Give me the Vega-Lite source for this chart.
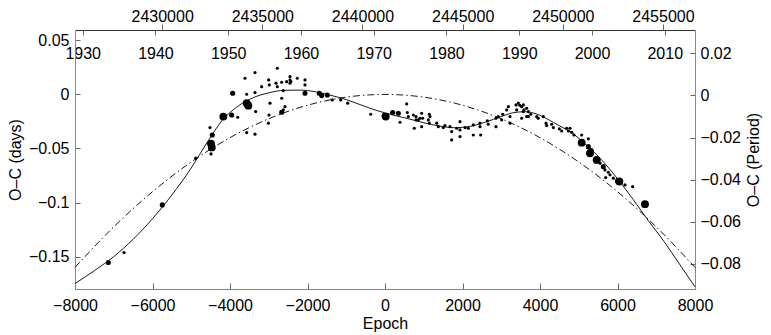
{
  "$schema": "https://vega.github.io/schema/vega-lite/v6.json",
  "width": 620,
  "height": 259,
  "autosize": {"type": "none"},
  "padding": {"left": 75, "top": 30, "right": 76, "bottom": 46},
  "background": "white",
  "config": {
    "view": {"stroke": null},
    "axis": {
      "labelFont": "Liberation Sans",
      "titleFont": "Liberation Sans",
      "labelFontSize": 16,
      "titleFontSize": 16,
      "titleFontWeight": "normal",
      "labelColor": "black",
      "titleColor": "black",
      "grid": false,
      "domainColor": "#888888",
      "tickColor": "#666666",
      "labelOverlap": false,
      "labelFlush": false
    }
  },
  "datasets": {
    "obs": [
      {"epoch": -7140, "oc": -0.1555, "w": 2},
      {"epoch": -6735, "oc": -0.1463, "w": 1},
      {"epoch": -5747, "oc": -0.1022, "w": 2},
      {"epoch": -4885, "oc": -0.0590, "w": 1},
      {"epoch": -4516, "oc": -0.0307, "w": 1},
      {"epoch": -4457, "oc": -0.0375, "w": 2},
      {"epoch": -4490, "oc": -0.0455, "w": 3},
      {"epoch": -4470, "oc": -0.0490, "w": 3},
      {"epoch": -4490, "oc": -0.0550, "w": 1},
      {"epoch": -4172, "oc": -0.0205, "w": 3},
      {"epoch": -3957, "oc": -0.0190, "w": 2},
      {"epoch": -3931, "oc": 0.0011, "w": 2},
      {"epoch": -3800, "oc": -0.0211, "w": 1},
      {"epoch": -3613, "oc": 0.0150, "w": 1},
      {"epoch": -3570, "oc": 0.0002, "w": 1},
      {"epoch": -3570, "oc": -0.0081, "w": 3},
      {"epoch": -3527, "oc": -0.0104, "w": 3},
      {"epoch": -3570, "oc": -0.0353, "w": 1},
      {"epoch": -3355, "oc": 0.0202, "w": 1},
      {"epoch": -3355, "oc": 0.0017, "w": 1},
      {"epoch": -3338, "oc": -0.0159, "w": 1},
      {"epoch": -3355, "oc": -0.0368, "w": 1},
      {"epoch": -3183, "oc": 0.0072, "w": 1},
      {"epoch": -3011, "oc": -0.0266, "w": 1},
      {"epoch": -3002, "oc": 0.0134, "w": 1},
      {"epoch": -2985, "oc": 0.0088, "w": 1},
      {"epoch": -2968, "oc": -0.0081, "w": 1},
      {"epoch": -2994, "oc": -0.0190, "w": 1},
      {"epoch": -2813, "oc": 0.0104, "w": 1},
      {"epoch": -2779, "oc": 0.0072, "w": 1},
      {"epoch": -2779, "oc": 0.0242, "w": 1},
      {"epoch": -2666, "oc": 0.0113, "w": 1},
      {"epoch": -2666, "oc": -0.0035, "w": 1},
      {"epoch": -2666, "oc": -0.0165, "w": 2},
      {"epoch": -2624, "oc": 0.0035, "w": 1},
      {"epoch": -2624, "oc": -0.0143, "w": 1},
      {"epoch": -2581, "oc": -0.0113, "w": 1},
      {"epoch": -2537, "oc": 0.0118, "w": 1},
      {"epoch": -2452, "oc": 0.0165, "w": 1},
      {"epoch": -2452, "oc": 0.0134, "w": 1},
      {"epoch": -2452, "oc": 0.0104, "w": 1},
      {"epoch": -2430, "oc": 0.0120, "w": 1},
      {"epoch": -2263, "oc": 0.0150, "w": 1},
      {"epoch": -2065, "oc": 0.0134, "w": 1},
      {"epoch": -2065, "oc": 0.0088, "w": 1},
      {"epoch": -2065, "oc": 0.0011, "w": 2},
      {"epoch": -1695, "oc": 0.0011, "w": 2},
      {"epoch": -1634, "oc": -0.0011, "w": 2},
      {"epoch": -1489, "oc": -0.0005, "w": 2},
      {"epoch": -1360, "oc": -0.0051, "w": 1},
      {"epoch": -1143, "oc": -0.0051, "w": 1},
      {"epoch": -963, "oc": -0.0081, "w": 1},
      {"epoch": -369, "oc": -0.0183, "w": 1},
      {"epoch": 18, "oc": -0.0205, "w": 3},
      {"epoch": -20, "oc": -0.0195, "w": 2},
      {"epoch": 198, "oc": -0.0168, "w": 2},
      {"epoch": 344, "oc": -0.0174, "w": 2},
      {"epoch": 387, "oc": -0.0257, "w": 1},
      {"epoch": 559, "oc": -0.0088, "w": 1},
      {"epoch": 576, "oc": -0.0168, "w": 1},
      {"epoch": 602, "oc": -0.0205, "w": 1},
      {"epoch": 731, "oc": -0.0190, "w": 1},
      {"epoch": 800, "oc": -0.0205, "w": 1},
      {"epoch": 757, "oc": -0.0313, "w": 1},
      {"epoch": 800, "oc": -0.0236, "w": 1},
      {"epoch": 860, "oc": -0.0236, "w": 1},
      {"epoch": 903, "oc": -0.0220, "w": 1},
      {"epoch": 946, "oc": -0.0174, "w": 1},
      {"epoch": 972, "oc": -0.0220, "w": 1},
      {"epoch": 946, "oc": -0.0298, "w": 1},
      {"epoch": 1144, "oc": -0.0183, "w": 1},
      {"epoch": 1118, "oc": -0.0236, "w": 1},
      {"epoch": 1144, "oc": -0.0266, "w": 1},
      {"epoch": 1161, "oc": -0.0205, "w": 1},
      {"epoch": 1334, "oc": -0.0266, "w": 1},
      {"epoch": 1376, "oc": -0.0298, "w": 1},
      {"epoch": 1505, "oc": -0.0307, "w": 1},
      {"epoch": 1548, "oc": -0.0288, "w": 1},
      {"epoch": 1677, "oc": -0.0298, "w": 1},
      {"epoch": 1720, "oc": -0.0344, "w": 1},
      {"epoch": 1720, "oc": -0.0421, "w": 1},
      {"epoch": 1850, "oc": -0.0313, "w": 1},
      {"epoch": 1935, "oc": -0.0252, "w": 1},
      {"epoch": 1935, "oc": -0.0328, "w": 1},
      {"epoch": 1935, "oc": -0.0390, "w": 1},
      {"epoch": 2065, "oc": -0.0307, "w": 1},
      {"epoch": 2150, "oc": -0.0313, "w": 1},
      {"epoch": 2279, "oc": -0.0282, "w": 1},
      {"epoch": 2279, "oc": -0.0375, "w": 1},
      {"epoch": 2451, "oc": -0.0266, "w": 1},
      {"epoch": 2451, "oc": -0.0298, "w": 1},
      {"epoch": 2469, "oc": -0.0375, "w": 1},
      {"epoch": 2640, "oc": -0.0245, "w": 1},
      {"epoch": 2666, "oc": -0.0276, "w": 1},
      {"epoch": 2864, "oc": -0.0220, "w": 1},
      {"epoch": 2864, "oc": -0.0298, "w": 1},
      {"epoch": 2924, "oc": -0.0205, "w": 1},
      {"epoch": 3011, "oc": -0.0236, "w": 1},
      {"epoch": 3037, "oc": -0.0183, "w": 1},
      {"epoch": 3140, "oc": -0.0143, "w": 1},
      {"epoch": 3183, "oc": -0.0113, "w": 1},
      {"epoch": 3226, "oc": -0.0205, "w": 1},
      {"epoch": 3226, "oc": -0.0266, "w": 1},
      {"epoch": 3381, "oc": -0.0097, "w": 1},
      {"epoch": 3398, "oc": -0.0143, "w": 1},
      {"epoch": 3440, "oc": -0.0080, "w": 1},
      {"epoch": 3480, "oc": -0.0100, "w": 1},
      {"epoch": 3527, "oc": -0.0113, "w": 1},
      {"epoch": 3570, "oc": -0.0159, "w": 1},
      {"epoch": 3656, "oc": -0.0128, "w": 1},
      {"epoch": 3527, "oc": -0.0220, "w": 1},
      {"epoch": 3699, "oc": -0.0205, "w": 1},
      {"epoch": 3570, "oc": -0.0097, "w": 1},
      {"epoch": 3587, "oc": -0.0143, "w": 1},
      {"epoch": 3699, "oc": -0.0159, "w": 1},
      {"epoch": 3760, "oc": -0.0183, "w": 1},
      {"epoch": 3656, "oc": -0.0205, "w": 1},
      {"epoch": 3914, "oc": -0.0205, "w": 1},
      {"epoch": 3957, "oc": -0.0220, "w": 1},
      {"epoch": 4086, "oc": -0.0205, "w": 1},
      {"epoch": 4155, "oc": -0.0266, "w": 1},
      {"epoch": 4172, "oc": -0.0288, "w": 1},
      {"epoch": 4302, "oc": -0.0276, "w": 1},
      {"epoch": 4345, "oc": -0.0307, "w": 1},
      {"epoch": 4500, "oc": -0.0319, "w": 1},
      {"epoch": 4560, "oc": -0.0338, "w": 1},
      {"epoch": 4689, "oc": -0.0313, "w": 1},
      {"epoch": 4731, "oc": -0.0338, "w": 1},
      {"epoch": 4774, "oc": -0.0313, "w": 1},
      {"epoch": 4818, "oc": -0.0350, "w": 1},
      {"epoch": 4877, "oc": -0.0375, "w": 1},
      {"epoch": 5076, "oc": -0.0375, "w": 1},
      {"epoch": 5076, "oc": -0.0446, "w": 3},
      {"epoch": 5247, "oc": -0.0411, "w": 1},
      {"epoch": 5247, "oc": -0.0483, "w": 2},
      {"epoch": 5290, "oc": -0.0544, "w": 3},
      {"epoch": 5320, "oc": -0.0520, "w": 2},
      {"epoch": 5463, "oc": -0.0606, "w": 3},
      {"epoch": 5548, "oc": -0.0636, "w": 1},
      {"epoch": 5634, "oc": -0.0668, "w": 2},
      {"epoch": 5677, "oc": -0.0698, "w": 1},
      {"epoch": 5763, "oc": -0.0720, "w": 1},
      {"epoch": 5695, "oc": -0.0769, "w": 1},
      {"epoch": 5806, "oc": -0.0744, "w": 1},
      {"epoch": 5892, "oc": -0.0775, "w": 1},
      {"epoch": 6047, "oc": -0.0806, "w": 3},
      {"epoch": 6000, "oc": -0.0800, "w": 2},
      {"epoch": 6193, "oc": -0.0837, "w": 1},
      {"epoch": 6392, "oc": -0.0853, "w": 1},
      {"epoch": 6709, "oc": -0.1015, "w": 3}
    ],
    "fit": [
      {"epoch": -8000, "oc": -0.175},
      {"epoch": -7500, "oc": -0.163},
      {"epoch": -7000, "oc": -0.150},
      {"epoch": -6500, "oc": -0.134},
      {"epoch": -6000, "oc": -0.115},
      {"epoch": -5500, "oc": -0.093},
      {"epoch": -5000, "oc": -0.068},
      {"epoch": -4600, "oc": -0.045},
      {"epoch": -4200, "oc": -0.024},
      {"epoch": -3800, "oc": -0.011},
      {"epoch": -3400, "oc": -0.003},
      {"epoch": -3000, "oc": 0.0015},
      {"epoch": -2600, "oc": 0.0038},
      {"epoch": -2200, "oc": 0.0040},
      {"epoch": -1800, "oc": 0.0025},
      {"epoch": -1400, "oc": -0.0008},
      {"epoch": -1000, "oc": -0.0048},
      {"epoch": -600, "oc": -0.0100},
      {"epoch": -200, "oc": -0.0150},
      {"epoch": 200, "oc": -0.0190},
      {"epoch": 600, "oc": -0.0225},
      {"epoch": 1000, "oc": -0.0262},
      {"epoch": 1400, "oc": -0.0292},
      {"epoch": 1800, "oc": -0.0308},
      {"epoch": 2200, "oc": -0.0295},
      {"epoch": 2600, "oc": -0.0255},
      {"epoch": 3000, "oc": -0.0205},
      {"epoch": 3300, "oc": -0.0170},
      {"epoch": 3600, "oc": -0.0160},
      {"epoch": 3900, "oc": -0.0180},
      {"epoch": 4200, "oc": -0.0230},
      {"epoch": 4500, "oc": -0.0290},
      {"epoch": 4800, "oc": -0.0350},
      {"epoch": 5200, "oc": -0.0470},
      {"epoch": 5600, "oc": -0.0610},
      {"epoch": 6000, "oc": -0.0780},
      {"epoch": 6400, "oc": -0.0970},
      {"epoch": 6800, "oc": -0.1170},
      {"epoch": 7200, "oc": -0.1360},
      {"epoch": 7600, "oc": -0.1570},
      {"epoch": 8000, "oc": -0.1780}
    ],
    "par": [
      {"epoch": -8000, "oc": -0.160},
      {"epoch": -7000, "oc": -0.1225},
      {"epoch": -6000, "oc": -0.090},
      {"epoch": -5000, "oc": -0.0625},
      {"epoch": -4000, "oc": -0.040},
      {"epoch": -3000, "oc": -0.0225},
      {"epoch": -2000, "oc": -0.010},
      {"epoch": -1000, "oc": -0.0025},
      {"epoch": 0, "oc": 0.0},
      {"epoch": 1000, "oc": -0.0025},
      {"epoch": 2000, "oc": -0.010},
      {"epoch": 3000, "oc": -0.0225},
      {"epoch": 4000, "oc": -0.040},
      {"epoch": 5000, "oc": -0.0625},
      {"epoch": 6000, "oc": -0.090},
      {"epoch": 7000, "oc": -0.1225},
      {"epoch": 8000, "oc": -0.160}
    ],
    "jd": [
      {"jd": 2430000}, {"jd": 2435000}, {"jd": 2440000}, {"jd": 2445000}, {"jd": 2450000}, {"jd": 2455000}
    ],
    "yr": [
      {"year": 1930}, {"year": 1940}, {"year": 1950}, {"year": 1960}, {"year": 1970}, {"year": 1980}, {"year": 1990}, {"year": 2000}, {"year": 2010}
    ],
    "per": [
      {"p": -0.08}, {"p": -0.06}, {"p": -0.04}, {"p": -0.02}, {"p": 0}, {"p": 0.02}
    ]
  },
  "layer": [
    {
      "layer": [
        {
          "data": {"name": "par"},
          "mark": {"type": "line", "color": "black", "strokeWidth": 0.9, "strokeDash": [7, 3, 1.5, 3], "interpolate": "monotone"},
          "encoding": {
            "x": {"field": "epoch", "type": "quantitative"},
            "y": {"field": "oc", "type": "quantitative"}
          }
        },
        {
          "data": {"name": "fit"},
          "mark": {"type": "line", "color": "black", "strokeWidth": 0.9, "interpolate": "monotone"},
          "encoding": {
            "x": {"field": "epoch", "type": "quantitative"},
            "y": {"field": "oc", "type": "quantitative"}
          }
        },
        {
          "data": {"name": "obs"},
          "mark": {"type": "circle", "color": "black", "opacity": 1},
          "encoding": {
            "x": {"field": "epoch", "type": "quantitative"},
            "y": {"field": "oc", "type": "quantitative"},
            "size": {"field": "w", "type": "quantitative", "legend": null, "scale": {"domain": [1, 2, 3], "range": [10, 26, 62]}}
          }
        }
      ],
      "encoding": {
        "x": {
          "field": "epoch", "type": "quantitative",
          "scale": {"domain": [-8000, 8000], "nice": false, "zero": false},
          "axis": {"orient": "bottom", "title": "Epoch", "values": [-8000, -6000, -4000, -2000, 0, 2000, 4000, 6000, 8000], "format": "d", "tickSize": -6, "labelPadding": 14, "titlePadding": 2}
        },
        "y": {
          "field": "oc", "type": "quantitative",
          "scale": {"domain": [-0.18, 0.0596], "nice": false, "zero": false},
          "axis": {"orient": "left", "title": "O–C (days)", "values": [-0.15, -0.1, -0.05, 0, 0.05], "format": ".2~f", "tickSize": -5, "labelPadding": 11, "titlePadding": 5}
        }
      }
    },
    {
      "data": {"name": "per"},
      "mark": {"type": "rule", "opacity": 0},
      "encoding": {
        "y": {
          "field": "p", "type": "quantitative",
          "scale": {"domain": [-0.0919, 0.0311], "nice": false, "zero": false},
          "axis": {"orient": "right", "title": "O–C (Period)", "values": [-0.08, -0.06, -0.04, -0.02, 0, 0.02], "format": ".2~f", "labelAlign": "left", "tickSize": -5, "labelPadding": 10, "titlePadding": 5, "titleAngle": 270, "titleBaseline": "top"}
        }
      }
    },
    {
      "data": {"name": "jd"},
      "mark": {"type": "rule", "opacity": 0},
      "encoding": {
        "x": {
          "field": "jd", "type": "quantitative",
          "scale": {"domain": [2425650, 2456600], "nice": false, "zero": false},
          "axis": {"orient": "top", "title": null, "values": [2430000, 2435000, 2440000, 2445000, 2450000, 2455000], "format": "d", "tickSize": 6, "labelPadding": 0, "domainColor": "#333333"}
        }
      }
    },
    {
      "data": {"name": "yr"},
      "mark": {"type": "rule", "opacity": 0},
      "encoding": {
        "x": {
          "field": "year", "type": "quantitative",
          "scale": {"domain": [1928.94, 2014.16], "nice": false, "zero": false},
          "axis": {"orient": "top", "title": null, "values": [1930, 1940, 1950, 1960, 1970, 1980, 1990, 2000, 2010], "format": "d", "tickSize": -5, "labelPadding": -10, "labelBaseline": "top", "domain": false}
        }
      }
    }
  ],
  "resolve": {"scale": {"x": "independent", "y": "independent", "size": "independent"}}
}
